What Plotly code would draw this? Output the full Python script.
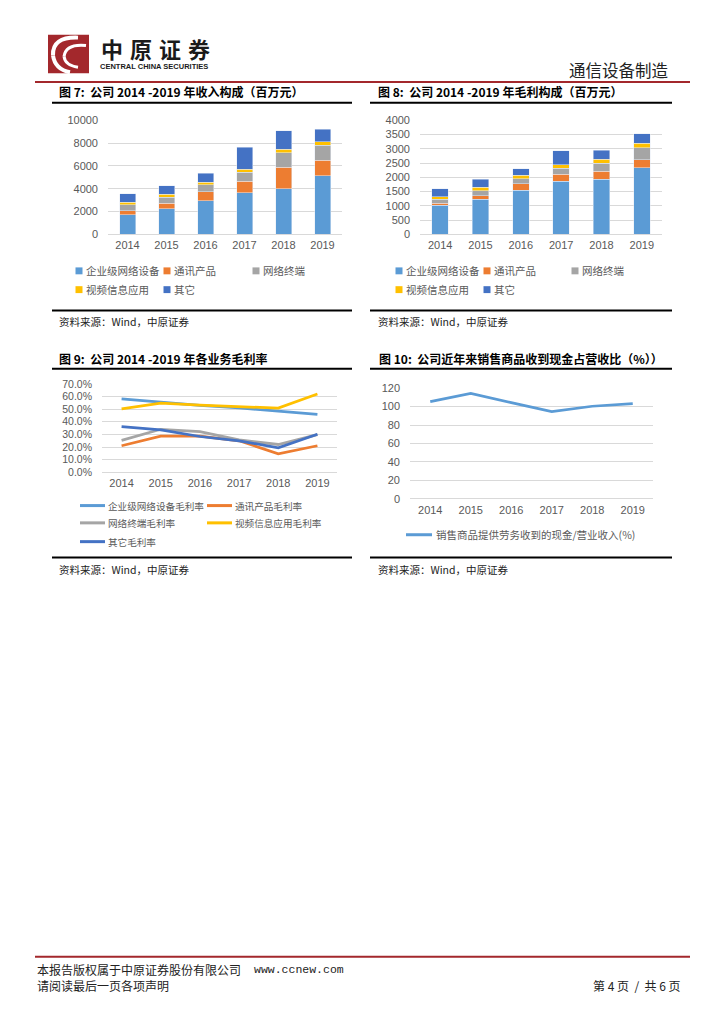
import plotly.graph_objects as go

W, H = 724, 1024


def px(x):
    return x / W


def py(y):
    return 1 - y / H


# ---------------- data ----------------
years = ["2014", "2015", "2016", "2017", "2018", "2019"]
segments = ["企业级网络设备", "通讯产品", "网络终端", "视频信息应用", "其它"]
seg_colors = ["#5B9BD5", "#ED7D31", "#A5A5A5", "#FFC000", "#4472C4"]

# Fig 7 revenue (百万元)
rev_enterprise = [1730, 2225, 2950, 3640, 3990, 5145]
rev_comm = [320, 490, 780, 1010, 1880, 1360]
rev_terminal = [550, 550, 605, 780, 1270, 1330]
rev_video = [200, 230, 230, 290, 320, 290]
rev_other = [755, 750, 780, 1910, 1620, 1100]

# Fig 8 gross profit (百万元)
gp_enterprise = [1020, 1225, 1540, 1860, 1930, 2335]
gp_comm = [70, 130, 230, 255, 280, 280]
gp_terminal = [140, 170, 185, 195, 280, 415]
gp_video = [90, 130, 115, 140, 150, 160]
gp_other = [280, 280, 230, 485, 310, 335]

# Fig 9 gross margin (%)
margin_names = ["企业级网络设备毛利率", "通讯产品毛利率", "网络终端毛利率", "视频信息应用毛利率", "其它毛利率"]
gm_enterprise = [58.1, 55.2, 52.9, 51.0, 48.4, 45.8]
gm_comm = [21.1, 28.6, 28.6, 25.0, 14.8, 21.1]
gm_terminal = [25.3, 34.1, 32.3, 25.8, 22.1, 29.9]
gm_video = [50.3, 54.7, 53.1, 52.1, 50.8, 62.0]
gm_other = [36.2, 33.6, 28.4, 25.0, 19.5, 30.2]

# Fig 10 cash ratio
cash_name = "销售商品提供劳务收到的现金/营业收入(%)"
cash_ratio = [105.4, 114.3, 104.3, 94.6, 100.4, 103.2]

titles = [
    "图 7:  公司 2014 -2019 年收入构成（百万元）",
    "图 8:  公司 2014 -2019 年毛利构成（百万元）",
    "图 9:  公司 2014 -2019 年各业务毛利率",
    "图 10:  公司近年来销售商品收到现金占营收比（%））",
]
source_text = "资料来源：Wind，中原证券"

# ---------------- styles ----------------
CJK = "Noto Sans CJK SC"
NUM = "Liberation Sans, Noto Sans CJK SC"
TICK_COLOR = "#595959"
GRID = "#D9D9D9"

fig = go.Figure()

rev = [rev_enterprise, rev_comm, rev_terminal, rev_video, rev_other]
gp = [gp_enterprise, gp_comm, gp_terminal, gp_video, gp_other]
gm = [gm_enterprise, gm_comm, gm_terminal, gm_video, gm_other]

for name, vals, col in zip(segments, rev, seg_colors):
    fig.add_trace(go.Bar(x=years, y=vals, name=name, marker_color=col,
                         xaxis="x", yaxis="y", showlegend=False))
for name, vals, col in zip(segments, gp, seg_colors):
    fig.add_trace(go.Bar(x=years, y=vals, name=name, marker_color=col,
                         xaxis="x2", yaxis="y2", showlegend=False))
for name, vals, col in zip(margin_names, gm, seg_colors):
    fig.add_trace(go.Scatter(x=years, y=vals, name=name, mode="lines",
                             line=dict(color=col, width=2.75),
                             xaxis="x3", yaxis="y3", showlegend=False))
fig.add_trace(go.Scatter(x=years, y=cash_ratio, name=cash_name, mode="lines",
                         line=dict(color="#5B9BD5", width=2.75),
                         xaxis="x4", yaxis="y4", showlegend=False))


def xax(x0, x1, anchor):
    return dict(domain=[px(x0), px(x1)], anchor=anchor, type="category",
                range=[-0.5, 5.5], showgrid=False, zeroline=False,
                showline=False, ticks="", ticklabelstandoff=3,
                tickfont=dict(family=NUM, size=11, color=TICK_COLOR))


def yax(y_top, y_bot, anchor, rng, dtick, fsize=11, **kw):
    d = dict(domain=[py(y_bot), py(y_top)], anchor=anchor, range=rng, dtick=dtick,
             showgrid=True, gridcolor=GRID, gridwidth=1, zeroline=True,
             zerolinecolor=GRID, zerolinewidth=1, showline=False, ticks="",
             ticklabelstandoff=9, tickformat="d",
             tickfont=dict(family=NUM, size=fsize, color=TICK_COLOR))
    d.update(kw)
    return d


fig.update_layout(
    width=W, height=H,
    margin=dict(l=0, r=0, t=0, b=0),
    paper_bgcolor="white", plot_bgcolor="white",
    barmode="stack", bargap=0.59,
    showlegend=False,
    xaxis=xax(108, 342, "y"),
    yaxis=yax(115.7, 231, "x", [0, 10000], 2000),
    xaxis2=xax(420, 662, "y2"),
    yaxis2=yax(115.7, 231, "x2", [0, 4000], 500),
    xaxis3=xax(102, 337, "y3"),
    yaxis3=yax(382.3, 472, "x3", [0, 70], 10, fsize=10.5, ticksuffix="%", tickformat=".1f"),
    xaxis4=xax(410, 653, "y4"),
    yaxis4=yax(386.7, 498.7, "x4", [0, 120], 20),
)

shapes = []
ann = []


def text(x, y, s, size, color="#000", family=CJK, xanchor="left", yanchor="middle"):
    ann.append(dict(x=px(x), y=py(y), xref="paper", yref="paper", text=s,
                    showarrow=False, xanchor=xanchor, yanchor=yanchor,
                    font=dict(family=family, size=size, color=color)))


def hline(x0, x1, y, color, width):
    shapes.append(dict(type="line", xref="paper", yref="paper",
                       x0=px(x0), x1=px(x1), y0=py(y), y1=py(y),
                       line=dict(color=color, width=width)))


# ---------------- header ----------------
RED = "#A3282C"
shapes.append(dict(type="rect", xref="paper", yref="paper",
                   x0=px(48), x1=px(89), y0=py(68), y1=py(29),
                   fillcolor=RED, line=dict(width=0)))


def pth(points):
    (a, b), (c, d), (e, f) = points
    return f"M {px(a)},{py(b)} Q {px(c)},{py(d)} {px(e)},{py(f)}"


for seg, w in [
    ([(78, 32), (52, 31), (53, 50)], 4),
    ([(53, 50), (55, 64), (70, 67)], 4),
    ([(86, 40), (66, 38), (64, 51)], 3),
    ([(64, 51), (65, 60), (78, 62)], 3),
]:
    shapes.append(dict(type="path", xref="paper", yref="paper", path=pth(seg),
                       line=dict(color="white", width=w)))

for i, ch in enumerate("中原证券"):
    text(112 + i * 29, 42, f"<b>{ch}</b>", 22, color="#1A1A1A", xanchor="center")
text(154, 61.5, "<b>CENTRAL CHINA SECURITIES</b>", 7.5,
     color="#1A1A1A", family="Liberation Sans Narrow, Liberation Sans", xanchor="center")
text(671, 65, "通信设备制造", 16.5, color="#222", xanchor="right")
hline(35, 690, 77, RED, 2)

# ---------------- titles & rules ----------------
text(57, 87, f"<b>{titles[0]}</b>", 12)
text(376, 87, f"<b>{titles[1]}</b>", 12)
text(57, 357, f"<b>{titles[2]}</b>", 12)
text(377, 357, f"<b>{titles[3]}</b>", 12)

for y in (98, 308, 367, 558):
    hline(52, 352, y, "#000", 2)
    hline(370, 672, y, "#000", 2)

text(57, 319.5, source_text, 10.5, color="#222")
text(376, 319.5, source_text, 10.5, color="#222")
text(57, 570, source_text, 10.5, color="#222")
text(376, 570, source_text, 10.5, color="#222")

# ---------------- legends (manual) ----------------
def square_legend(x_markers, rows):
    idx = 0
    for r, y in enumerate(rows):
        for x in x_markers[r]:
            shapes.append(dict(type="rect", xref="paper", yref="paper",
                               x0=px(x - 3.5), x1=px(x + 3.5), y0=py(y + 3.5), y1=py(y - 3.5),
                               fillcolor=seg_colors[idx], line=dict(width=0)))
            text(x + 5, y, segments[idx], 10.5, color=TICK_COLOR)
            idx += 1


square_legend([[79, 167, 256], [79, 167]], [268, 287])
square_legend([[399, 487, 575], [399, 487]], [268, 287])

leg9 = [(80, 505.5, 0), (207, 505.5, 1), (80, 523, 2), (207, 523, 3), (80, 542, 4)]
for x, y, i in leg9:
    hline(x, x + 25, y, seg_colors[i], 3)
    text(x + 26, y, margin_names[i], 9.6, color=TICK_COLOR)

hline(406, 432, 535, "#5B9BD5", 3)
text(434, 535, cash_name, 10.5, color=TICK_COLOR)

# ---------------- footer ----------------
hline(35, 690, 962, RED, 2)
text(35, 975, "本报告版权属于中原证券股份有限公司", 12, color="#222")
text(252, 975, "www.ccnew.com", 11.5, color="#222", family="Liberation Mono, DejaVu Sans Mono")
text(35, 991.5, "请阅读最后一页各项声明", 12, color="#222")
text(683, 991.5, "第 4 页  /  共 6 页", 12, color="#222", xanchor="right")

fig.update_layout(shapes=shapes, annotations=ann)

fig.write_html("out.html", config={"displayModeBar": False},
               post_script="document.body.style.margin='0';")
